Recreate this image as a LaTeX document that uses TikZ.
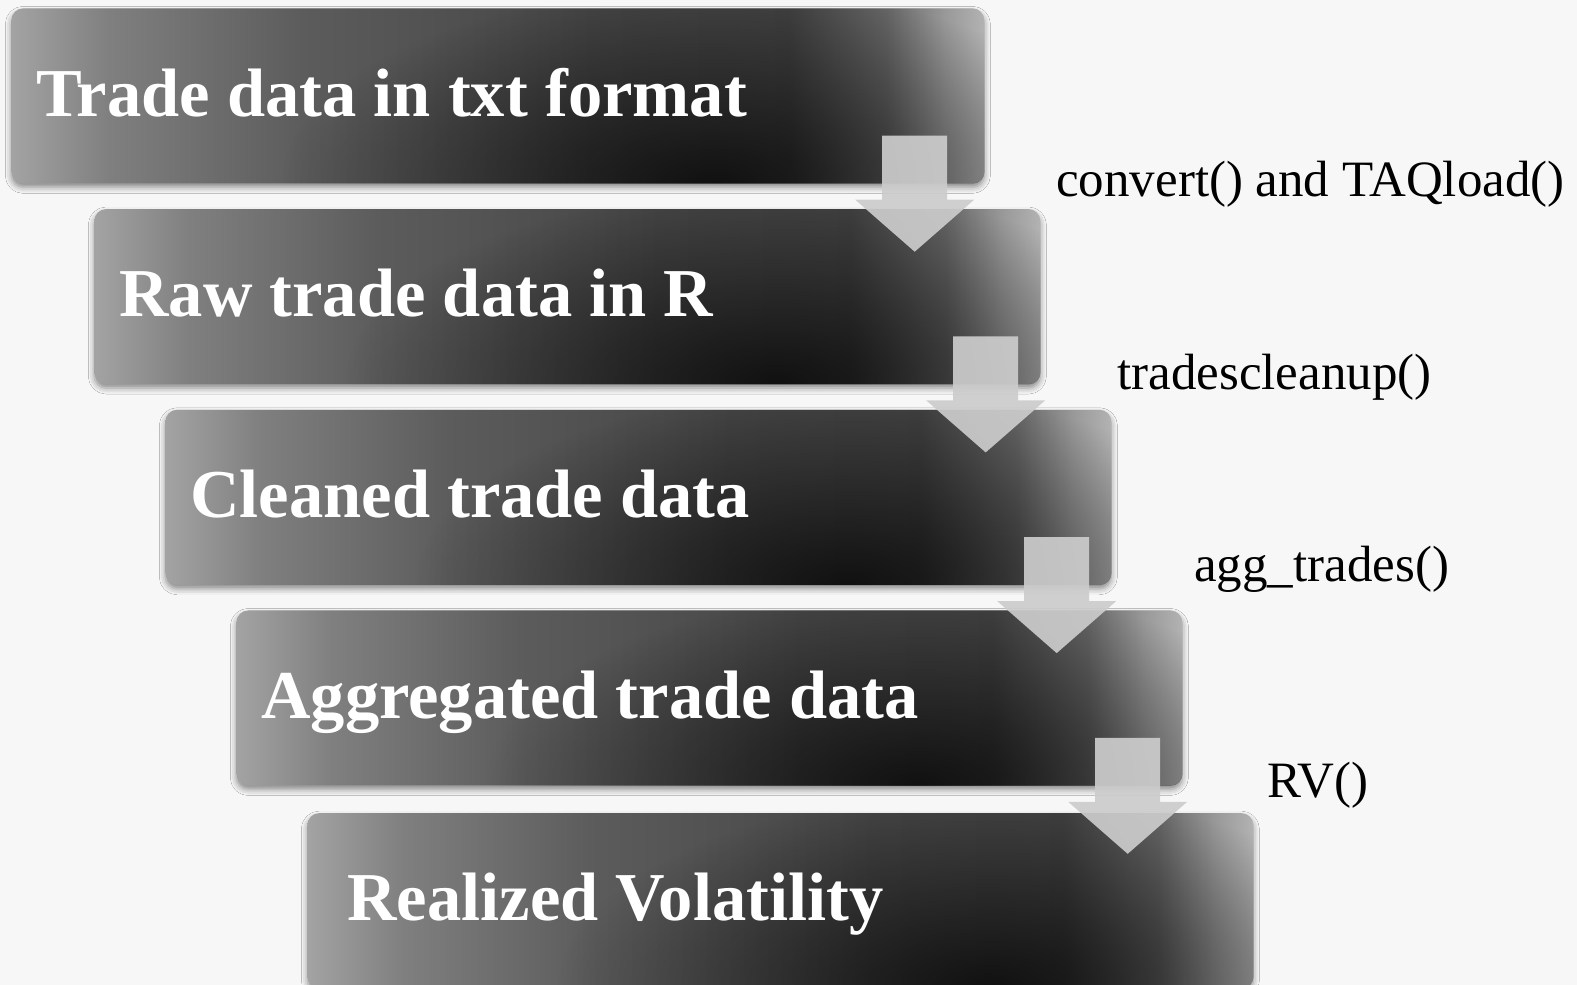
\documentclass[tikz,border=0pt]{standalone}
\usepackage{fontspec}
\setmainfont{Liberation Serif}
\usetikzlibrary{positioning, calc, shadows.blur, fadings}

\pgfdeclarehorizontalshading{stepshade}{100bp}{color(0bp)=(black!36); color(25bp)=(black!36); color(30bp)=(black!50); color(40bp)=(black!64); color(55bp)=(black!73); color(65bp)=(black!74); color(70bp)=(black!60); color(73bp)=(black!40); color(75bp)=(black!30); color(100bp)=(black!30)}
\tikzfading[name=darkspot, inner color=transparent!0, outer color=transparent!100]

\begin{document}
\begin{tikzpicture}[
  stepbox/.style={shade, shading=stepshade, rounded corners=0.24cm, minimum width=18.92cm, minimum height=3.5cm, inner sep=0pt,
    blur shadow={shadow xshift=0pt, shadow yshift=-0.08cm, shadow blur radius=0.12cm, shadow opacity=45}},
  boxtext/.style={anchor=west, text=white, inner xsep=0.5cm, font=\fontsize{39}{47}\selectfont\bfseries, text height=31pt, text depth=8pt},
  flowarrow/.style={fill=black!20, fill opacity=0.92},
  fnlabel/.style={anchor=base west, inner sep=0pt, font=\fontsize{29}{35}\selectfont}
]
  \useasboundingbox (0,0) rectangle (31.54,-19.7);
  \fill[black!3] (0,0) rectangle (31.54,-19.7);

  % the five steps
  \node[stepbox, minimum width=19.46cm, anchor=north west] (b1) at (0.22,-0.16) {};
  \node[stepbox, below right=0.5cm and 1.66cm of b1.south west] (b2) {};
  \node[stepbox, below right=0.5cm and 1.42cm of b2.south west] (b3) {};
  \node[stepbox, below right=0.5cm and 1.42cm of b3.south west] (b4) {};
  \node[stepbox, below right=0.54cm and 1.42cm of b4.south west] (b5) {};

  % darker patch near the bottom of each step
  \foreach \b in {b1,b2,b3,b4,b5}{
    \begin{scope}
      \clip[rounded corners=0.24cm] (\b.south west) rectangle (\b.north east);
      \fill[black, fill opacity=0.75, path fading=darkspot] ($(\b.south west)!0.72!(\b.south east)$) ellipse [x radius=8.6cm, y radius=3.9cm];
    \end{scope}
  }

  \node[boxtext] (t1) at (b1.west) {Trade data in txt format};
  \node[boxtext] (t2) at (b2.west) {Raw trade data in R};
  \node[boxtext] (t3) at (b3.west) {Cleaned trade data};
  \node[boxtext] (t4) at (b4.west) {Aggregated trade data};
  \node[boxtext, xshift=0.3cm] (t5) at (b5.west) {Realized Volatility};

  % block arrows between the steps
  \foreach \i/\j in {1/2,2/3,3/4,4/5}{
    \coordinate (s\i) at ($(b\j.east |- b\i.south)+(-2.52,0.96)$);
    \fill[flowarrow] (s\i) ++(-0.65,0) -- ++(1.3,0) -- ++(0,-1.28) -- ++(0.54,0)
      -- ++(-1.19,-1.04) -- ++(-1.19,1.04) -- ++(0.54,0) -- cycle;
  }

  \node[fnlabel] (l1) at (21.12,-3.94) {convert() and TAQload()};
  \node[fnlabel] (l2) at (22.34,-7.80) {tradescleanup()};
  \node[fnlabel] (l3) at (23.88,-11.64) {agg\_trades()};
  \node[fnlabel] (l4) at (25.34,-15.96) {RV()};
\end{tikzpicture}
\end{document}
